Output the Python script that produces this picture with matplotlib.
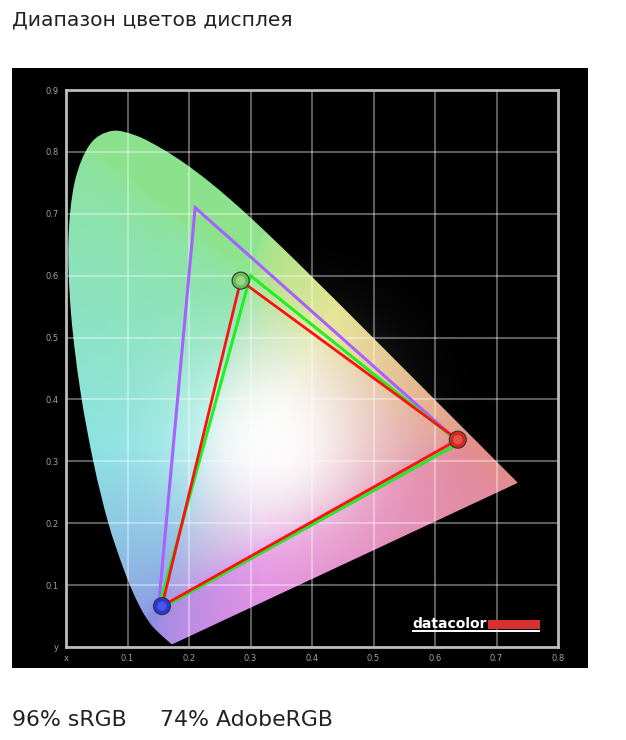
import numpy as np
import matplotlib.pyplot as plt
from matplotlib.patches import Polygon, Rectangle, PathPatch
from matplotlib.path import Path

# CIE 1931 spectral locus (x, y), 380-700 nm
locus_x = [0.1741, 0.1738, 0.1733, 0.1726, 0.1714, 0.1689, 0.1644, 0.1566, 0.1440,
           0.1355, 0.1241, 0.1096, 0.0913, 0.0687, 0.0454, 0.0235, 0.0082, 0.0039,
           0.0139, 0.0389, 0.0743, 0.1142, 0.1547, 0.1929, 0.2296, 0.2658, 0.3016,
           0.3373, 0.3731, 0.4087, 0.4441, 0.4788, 0.5125, 0.5448, 0.5752, 0.6029,
           0.6270, 0.6482, 0.6658, 0.6801, 0.6915, 0.7006, 0.7079, 0.7140, 0.7190,
           0.7230, 0.7260, 0.7283, 0.7300, 0.7320, 0.7334, 0.7347]
locus_y = [0.0050, 0.0049, 0.0048, 0.0048, 0.0051, 0.0069, 0.0109, 0.0177, 0.0297,
           0.0399, 0.0578, 0.0868, 0.1327, 0.2007, 0.2950, 0.4127, 0.5384, 0.6548,
           0.7502, 0.8120, 0.8338, 0.8262, 0.8059, 0.7816, 0.7543, 0.7243, 0.6923,
           0.6589, 0.6245, 0.5896, 0.5547, 0.5202, 0.4866, 0.4544, 0.4242, 0.3965,
           0.3725, 0.3514, 0.3340, 0.3197, 0.3083, 0.2993, 0.2920, 0.2859, 0.2809,
           0.2770, 0.2740, 0.2717, 0.2700, 0.2680, 0.2666, 0.2653]

# gamut triangles: red, green, blue primaries
adobe_x = [0.64, 0.21, 0.15]
adobe_y = [0.33, 0.71, 0.06]
srgb_x = [0.64, 0.30, 0.15]
srgb_y = [0.33, 0.60, 0.06]
display_x = [0.637, 0.284, 0.156]
display_y = [0.335, 0.592, 0.066]

title = "Диапазон цветов дисплея"
coverage = ["96% sRGB", "74% AdobeRGB"]

x_ticks = [0.1, 0.2, 0.3, 0.4, 0.5, 0.6, 0.7, 0.8]
y_ticks = [0.1, 0.2, 0.3, 0.4, 0.5, 0.6, 0.7, 0.8, 0.9]


def locus_path(xs, ys):
    # smooth curve through the locus points, straight line of purples to close
    p = np.column_stack([xs, ys])
    ext = np.vstack([p[0], p, p[-1]])
    verts = [p[0]]
    codes = [Path.MOVETO]
    for i in range(len(p) - 1):
        p0, p1, p2, p3 = ext[i], ext[i + 1], ext[i + 2], ext[i + 3]
        verts += [p1 + (p2 - p0) / 6, p2 - (p3 - p1) / 6, p2]
        codes += [Path.CURVE4] * 3
    verts += [p[0], p[0]]
    codes += [Path.LINETO, Path.CLOSEPOLY]
    return Path(verts, codes)


def chroma_image(nx=400, ny=450):
    xs = np.linspace(0, 0.8, nx)
    ys = np.linspace(0.001, 0.9, ny)
    gx, gy = np.meshgrid(xs, ys)
    X = gx / gy
    Z = (1 - gx - gy) / gy
    M = np.array([[3.2406, -1.5372, -0.4986],
                  [-0.9689, 1.8758, 0.0415],
                  [0.0557, -0.2040, 1.0570]])
    rgb = np.stack([X, np.ones_like(X), Z], axis=-1) @ M.T
    rgb = np.clip(rgb, 0, None)
    rgb = rgb / rgb.max(axis=-1, keepdims=True)
    rgb = rgb ** (1 / 2.2)
    # washed out look of the reference
    rgb = 0.55 + 0.34 * rgb
    g = np.exp(-((gx - 0.34) ** 2 + (gy - 0.33) ** 2) / 0.022)
    rgb = rgb + (1 - rgb) * g[..., None] * 0.95
    return np.clip(rgb, 0, 1)


def halo_image(nx=200, ny=225):
    xs = np.linspace(0, 0.8, nx)
    ys = np.linspace(0, 0.9, ny)
    gx, gy = np.meshgrid(xs, ys)
    a = 0.2 * np.exp(-((gx - 0.38) ** 2 + (gy - 0.38) ** 2) / 0.025)
    out = np.ones((ny, nx, 4))
    out[..., 3] = a
    return out


fig = plt.figure(figsize=(6.26, 7.40), dpi=100)
W, H = 626, 740

fig.patches.append(Rectangle((12 / W, (H - 668) / H), 576 / W, 600 / H,
                             transform=fig.transFigure, facecolor="black",
                             edgecolor="none", zorder=-5))

ax = fig.add_axes([66 / W, (H - 647) / H, 492 / W, 557 / H])
ax.set_facecolor("black")
ax.set_xlim(0, 0.8)
ax.set_ylim(0, 0.9)

ax.imshow(halo_image(), origin="lower", extent=(0, 0.8, 0, 0.9),
          aspect="auto", interpolation="bilinear", zorder=0.5)
img = ax.imshow(chroma_image(), origin="lower", extent=(0, 0.8, 0.001, 0.9),
                aspect="auto", interpolation="bilinear", zorder=1)
locus = PathPatch(locus_path(locus_x, locus_y), transform=ax.transData,
                  facecolor="none", edgecolor="none")
ax.add_patch(locus)
img.set_clip_path(locus)

# grid
for v in x_ticks[:-1]:
    ax.axvline(v, color="white", alpha=0.36, lw=1.5, zorder=2)
for v in y_ticks[:-1]:
    ax.axhline(v, color="white", alpha=0.36, lw=1.5, zorder=2)

for s in ax.spines.values():
    s.set_color("#bdbdbd")
    s.set_linewidth(2)

ax.set_xticks([0] + x_ticks)
ax.set_xticklabels(["x"] + ["%.1f" % v for v in x_ticks])
ax.set_yticks([0] + y_ticks)
ax.set_yticklabels(["y"] + ["%.1f" % v for v in y_ticks])
ax.tick_params(length=0, labelsize=6, labelcolor="#a0a0a0", pad=5)

# triangles
ax.add_patch(Polygon(np.column_stack([adobe_x, adobe_y]), closed=True, fill=False,
                     edgecolor="#a860ff", lw=2.2, zorder=3, joinstyle="miter"))
ax.add_patch(Polygon(np.column_stack([srgb_x, srgb_y]), closed=True, fill=False,
                     edgecolor="#22ee22", lw=2.2, zorder=4, joinstyle="miter"))
ax.add_patch(Polygon(np.column_stack([display_x, display_y]), closed=True, fill=False,
                     edgecolor="#ff1010", lw=2.0, zorder=5, joinstyle="miter"))

# primaries spheres
sphere_cols = ["#d42a1e", "#6cbb58", "#2a36d8"]
light_cols = ["#f07060", "#b8e8a0", "#6070f0"]
ax.scatter(display_x, display_y, s=150, c=sphere_cols, edgecolors="#333333",
           linewidths=0.8, zorder=6)
ax.scatter(display_x, display_y, s=45, c=light_cols, edgecolors="none",
           alpha=0.6, zorder=7)

# datacolor logo
fig.text(412 / W, (H - 628) / H, "datacolor", color="white", fontsize=10,
         fontweight="bold", family="DejaVu Sans", va="baseline")
fig.patches.append(Rectangle((488 / W, (H - 629) / H), 52 / W, 9 / H,
                             transform=fig.transFigure, facecolor="#d8302e",
                             edgecolor="none", zorder=3))
fig.patches.append(Rectangle((412 / W, (H - 632) / H), 128 / W, 2 / H,
                             transform=fig.transFigure, facecolor="white",
                             edgecolor="none", zorder=3))

fig.text(12 / W, (H - 20) / H, title, fontsize=14.6, family="DejaVu Sans",
         color="#222222", va="center")
fig.text(12 / W, (H - 720) / H, coverage[0], fontsize=15.8, family="DejaVu Sans",
         color="#222222", va="center")
fig.text(160 / W, (H - 720) / H, coverage[1], fontsize=15.8, family="DejaVu Sans",
         color="#222222", va="center")

fig.savefig("out.png", dpi=100, facecolor="white")
